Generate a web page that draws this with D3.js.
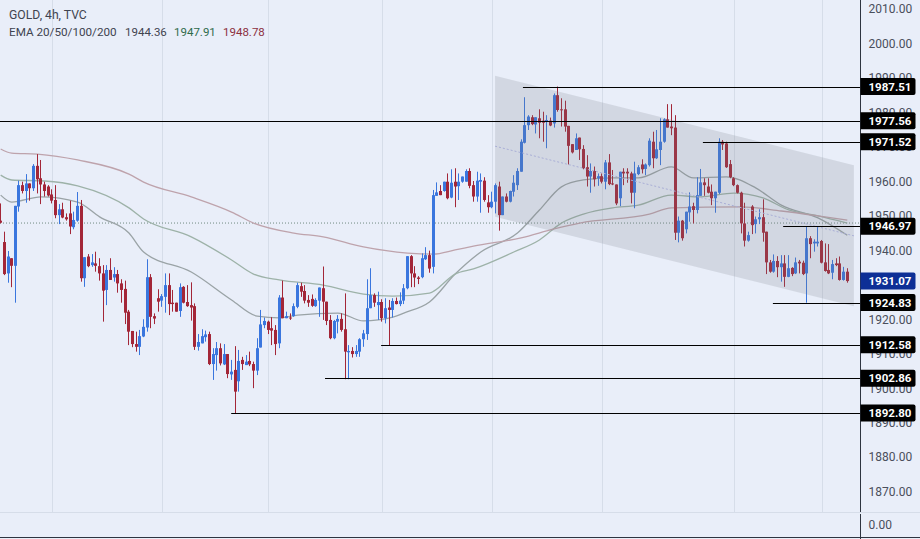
<!DOCTYPE html>
<html>
<head>
<meta charset="utf-8">
<script src="https://d3js.org/d3.v7.min.js"></script>
<style>
  html, body { margin: 0; padding: 0; background: #e9eef9; overflow: hidden; }
  svg { display: block; }
  text { font-family: Roboto, "Liberation Sans", sans-serif; }
</style>
</head>
<body>
<div id="chart"></div>
<script>
// GOLD 4h candles, prices
const opens = [
  1948.6,1942.4,1933.3,1937.7,1935.5,1952.7,1958.9,1957.2,1959.4,1958.0,
  1964.5,1960.9,1959.1,1958.5,1956.2,1954.6,1950.2,1951.9,1949.6,1950.7,
  1946.7,1948.6,1952.9,1931.9,1938.2,1935.7,1936.2,1935.4,1933.3,1928.5,
  1934.3,1932.1,1933.1,1930.4,1928.8,1922.2,1916.6,1912.8,1912.0,1915.0,
  1917.6,1932.2,1920.9,1926.1,1925.4,1926.5,1929.9,1924.8,1924.8,1922.4,
  1929.4,1925.0,1924.1,1923.8,1912.0,1913.0,1914.8,1915.7,1907.0,1909.6,
  1911.6,1906.9,1909.9,1904.0,1905.3,1902.0,1908.2,1906.7,1907.9,1907.0,
  1905.1,1911.8,1918.3,1919.3,1917.4,1916.9,1913.0,1926.3,1920.3,1920.5,
  1920.9,1923.6,1929.6,1928.2,1925.6,1925.9,1923.8,1925.4,1929.0,1925.1,
  1919.8,1914.5,1919.3,1920.1,1917.1,1910.4,1910.8,1909.9,1910.6,1914.2,
  1915.7,1923.2,1927.0,1924.1,1925.0,1920.3,1923.4,1922.7,1925.3,1924.4,
  1925.4,1929.0,1938.3,1933.3,1932.1,1932.2,1937.4,1938.6,1935.2,1955.8,
  1957.2,1957.2,1959.9,1955.3,1959.9,1958.6,1959.9,1959.9,1963.0,1958.9,
  1955.6,1959.9,1960.2,1953.9,1952.5,1954.1,1958.5,1950.2,1955.6,1954.1,
  1957.0,1958.9,1962.8,1971.2,1976.3,1978.6,1976.5,1978.3,1977.6,1977.2,
  1977.6,1976.8,1985.0,1980.9,1980.9,1976.1,1970.8,1969.1,1972.7,1969.4,
  1964.1,1961.4,1963.0,1960.9,1961.5,1959.9,1965.5,1959.4,1959.1,1955.1,
  1962.8,1962.8,1962.3,1956.7,1962.1,1964.9,1963.6,1964.7,1971.5,1966.7,
  1969.1,1971.5,1978.0,1975.9,1975.6,1945.1,1948.6,1946.1,1951.0,1952.8,
  1951.7,1955.8,1959.7,1958.5,1957.0,1955.1,1956.7,1971.5,1971.0,1965.0,
  1960.9,1958.9,1956.7,1947.8,1942.8,1952.7,1947.6,1949.0,1949.6,1945.4,
  1936.5,1933.8,1936.9,1935.1,1936.2,1932.3,1934.9,1933.3,1936.7,1936.4,
  1933.3,1943.5,1942.0,1942.0,1942.7,1936.5,1934.3,1933.5,1936.2,1936.2,
  1931.4,1933.8
];
const highs = [
  1953.6,1945.4,1939.8,1937.7,1952.9,1960.2,1959.9,1962.1,1959.4,1965.0,
  1967.9,1966.2,1959.9,1958.9,1957.7,1958.9,1953.4,1953.8,1950.7,1954.4,
  1951.2,1956.9,1954.6,1938.0,1938.9,1938.9,1939.6,1937.7,1935.7,1935.7,
  1937.7,1935.1,1934.3,1931.6,1931.2,1922.7,1916.6,1916.4,1916.9,1920.0,
  1937.4,1933.1,1921.7,1928.7,1927.3,1933.3,1933.3,1928.5,1924.8,1930.4,
  1929.6,1929.9,1930.7,1924.6,1915.7,1917.1,1916.7,1916.4,1911.6,1913.4,
  1913.0,1912.8,1909.9,1908.2,1912.2,1911.1,1909.1,1909.6,1910.6,1907.7,
  1914.5,1922.7,1920.5,1919.6,1920.6,1918.3,1927.0,1931.2,1922.2,1921.7,
  1924.6,1930.6,1930.6,1929.9,1927.0,1927.2,1926.1,1929.2,1935.3,1925.1,
  1921.2,1919.8,1921.2,1921.7,1927.5,1912.5,1911.9,1912.5,1914.5,1916.9,
  1931.6,1934.8,1927.5,1928.0,1925.8,1926.1,1925.6,1926.1,1926.3,1927.8,
  1930.2,1938.3,1938.6,1935.4,1932.5,1939.1,1940.9,1939.9,1957.5,1959.7,
  1958.9,1959.9,1962.3,1963.5,1963.8,1962.3,1961.4,1963.5,1963.8,1960.1,
  1962.8,1962.3,1961.2,1956.0,1957.0,1959.4,1959.9,1955.6,1956.5,1957.3,
  1961.8,1963.8,1972.2,1984.4,1979.2,1979.2,1978.6,1980.9,1980.2,1979.2,
  1978.5,1985.5,1987.5,1984.1,1983.4,1976.1,1970.8,1973.9,1972.7,1970.5,
  1967.6,1965.2,1964.3,1962.3,1962.3,1966.2,1967.9,1963.3,1959.1,1962.8,
  1963.8,1963.8,1962.8,1965.7,1964.7,1966.4,1965.2,1972.5,1974.4,1974.9,
  1978.3,1978.3,1982.4,1982.4,1979.2,1949.8,1948.8,1951.2,1956.8,1953.8,
  1961.2,1963.6,1960.9,1960.9,1959.1,1957.0,1972.5,1972.0,1971.5,1966.2,
  1961.2,1959.1,1957.0,1953.8,1945.4,1953.1,1949.8,1951.9,1954.8,1945.4,
  1937.2,1938.8,1938.3,1938.6,1938.6,1938.6,1935.1,1937.9,1937.2,1937.0,
  1947.0,1944.1,1943.2,1947.0,1943.0,1942.0,1941.8,1937.2,1937.7,1938.2,
  1935.2,1934.8
];
const lows = [
  1947.8,1932.8,1930.6,1929.3,1924.8,1951.2,1956.5,1953.8,1954.4,1957.2,
  1956.5,1953.4,1955.6,1955.6,1953.6,1949.3,1947.6,1949.3,1948.6,1944.7,
  1946.1,1948.3,1930.9,1929.4,1935.1,1935.2,1933.8,1931.2,1919.3,1924.1,
  1931.4,1930.9,1927.7,1924.8,1918.6,1912.5,1911.9,1910.6,1909.6,1914.8,
  1916.4,1917.4,1918.6,1922.2,1923.6,1921.9,1921.2,1922.2,1922.2,1920.7,
  1924.6,1923.6,1919.6,1911.1,1910.9,1913.0,1913.5,1906.7,1902.4,1905.1,
  1906.6,1906.7,1902.9,1902.4,1892.8,1899.0,1905.3,1906.7,1906.4,1900.0,
  1903.8,1911.8,1917.4,1915.7,1912.5,1909.6,1911.6,1920.3,1920.3,1919.8,
  1920.7,1923.2,1926.5,1924.6,1923.6,1923.6,1923.6,1920.7,1919.8,1918.3,
  1914.2,1914.2,1915.9,1916.4,1902.6,1902.6,1908.9,1909.1,1909.1,1912.0,
  1914.0,1923.2,1923.6,1919.8,1919.3,1918.8,1912.5,1920.5,1924.3,1923.8,
  1924.4,1928.7,1929.3,1929.3,1930.2,1931.9,1937.2,1933.5,1933.3,1955.8,
  1956.0,1957.0,1954.8,1955.1,1952.5,1954.6,1959.6,1959.9,1958.0,1954.1,
  1954.1,1950.9,1954.1,1950.9,1952.2,1950.7,1945.7,1950.2,1953.9,1953.9,
  1955.6,1957.5,1962.8,1971.0,1974.9,1976.3,1973.9,1972.5,1971.5,1969.6,
  1976.0,1975.6,1980.2,1975.9,1974.4,1964.9,1968.1,1969.1,1966.2,1963.5,
  1958.5,1956.7,1958.5,1958.7,1959.4,1957.7,1958.9,1958.9,1953.1,1952.8,
  1958.9,1959.6,1953.6,1952.2,1961.8,1962.3,1961.8,1964.3,1963.8,1966.5,
  1964.7,1971.2,1975.6,1973.4,1943.0,1942.3,1942.8,1944.9,1948.3,1947.8,
  1950.7,1955.8,1955.8,1956.5,1953.1,1950.9,1956.3,1969.1,1963.9,1960.9,
  1958.6,1956.5,1944.9,1941.1,1942.5,1944.7,1944.9,1947.6,1942.5,1933.1,
  1933.5,1933.5,1932.2,1930.9,1929.4,1932.2,1932.5,1933.1,1933.3,1932.8,
  1924.8,1937.7,1939.6,1941.1,1936.2,1933.8,1933.1,1931.6,1935.4,1931.2,
  1931.2,1930.6
];
const closes = [
  1948.0,1933.1,1938.2,1935.5,1952.9,1958.9,1957.2,1959.4,1958.0,1964.5,
  1960.6,1959.1,1957.2,1955.9,1954.4,1950.2,1951.9,1949.5,1949.0,1946.9,
  1948.8,1952.9,1931.9,1938.0,1935.4,1936.5,1935.5,1933.3,1928.3,1934.3,
  1931.4,1933.1,1930.4,1928.5,1921.9,1916.4,1912.8,1912.0,1915.1,1917.8,
  1932.2,1920.7,1920.2,1925.1,1926.7,1929.9,1924.4,1924.4,1922.2,1929.3,
  1924.8,1923.8,1923.4,1912.0,1913.4,1915.1,1915.6,1907.0,1909.9,1911.6,
  1907.2,1909.9,1904.1,1904.8,1899.0,1907.9,1907.0,1907.7,1906.9,1905.1,
  1911.6,1918.5,1919.5,1916.9,1916.7,1912.8,1926.3,1920.3,1920.9,1920.3,
  1923.8,1929.9,1928.0,1925.4,1924.8,1923.9,1925.6,1929.2,1925.1,1919.5,
  1914.5,1919.5,1920.1,1916.9,1910.6,1910.8,1909.9,1910.8,1914.2,1915.9,
  1923.2,1927.0,1924.8,1925.0,1920.3,1923.2,1922.7,1925.3,1924.4,1925.4,
  1929.0,1938.3,1933.3,1932.1,1931.7,1937.7,1938.6,1934.7,1956.0,1956.8,
  1956.0,1959.9,1955.1,1959.6,1958.5,1959.9,1961.4,1963.0,1958.7,1955.6,
  1960.2,1960.4,1954.6,1952.5,1954.1,1958.9,1950.2,1955.6,1954.1,1957.2,
  1959.6,1963.0,1971.5,1976.3,1978.8,1976.6,1978.6,1977.0,1977.0,1977.8,
  1976.2,1985.0,1980.7,1980.7,1975.9,1970.3,1968.4,1972.5,1969.3,1963.8,
  1961.4,1963.0,1960.6,1961.5,1959.9,1965.5,1959.2,1959.1,1953.6,1962.8,
  1962.3,1962.3,1956.7,1962.3,1964.1,1963.5,1964.9,1971.8,1966.7,1969.3,
  1971.5,1978.0,1975.6,1975.4,1945.1,1948.6,1943.5,1951.2,1952.7,1951.7,
  1956.0,1959.7,1958.9,1956.7,1955.1,1957.0,1971.5,1970.7,1964.1,1961.2,
  1958.9,1956.7,1947.8,1942.8,1944.4,1947.3,1949.0,1949.6,1945.1,1936.5,
  1933.8,1936.9,1935.1,1936.2,1932.3,1934.8,1933.1,1936.5,1936.2,1933.1,
  1943.5,1941.8,1942.5,1942.5,1936.4,1934.0,1933.3,1936.0,1935.7,1931.4,
  1933.8,1931.07
];

// EMA curves, read at the listed bar numbers
const ema20Bars = [0,3,11,21,27,35,39,52,63,70,76,81,92,99,107,110,117,124,131,141,147,153,159,167,174,183,189,198,206,213,223,231];
const ema20Values = [1956.0,1954.0,1955.5,1954.0,1949.7,1945.0,1939.5,1933.7,1925.6,1920.9,1920.4,1921.2,1921.8,1919.5,1920.6,1921.8,1925.0,1933.1,1939.5,1945.0,1951.7,1958.4,1960.4,1961.0,1961.0,1964.2,1961.0,1961.3,1958.1,1953.1,1949.4,1944.36];
const ema50Bars = [0,3,12,21,35,39,52,63,69,76,88,99,107,117,124,129,140,147,153,159,167,174,183,191,200,208,215,223,231];
const ema50Values = [1961.8,1960.4,1960.1,1958.7,1952.3,1949.1,1943.9,1937.2,1933.1,1931.4,1929.9,1927.3,1926.7,1927.6,1933.1,1934.6,1939.5,1943.0,1947.9,1950.5,1952.3,1953.1,1956.0,1955.5,1956.6,1955.2,1951.7,1950.0,1947.91];
const ema100Bars = [0,3,10,21,35,39,52,63,69,80,88,99,111,118,124,129,142,151,158,177,183,202,213,223,231];
const ema100Values = [1969.4,1968.2,1967.9,1966.2,1962.1,1959.8,1955.5,1951.1,1947.9,1945.0,1943.9,1941.0,1939.2,1938.9,1940.1,1941.2,1943.6,1946.2,1947.9,1950.5,1952.3,1952.6,1951.4,1950.0,1948.78];

// Drawn channel: bar number and price of its corners
const channelBars = [134.9, 232.8];
const channelTop = [1990.6, 1964.7];
const channelMid = [1970.2, 1944.2];
const channelBottom = [1949.7, 1923.8];

// Horizontal levels and the bar they start from
const levels = [1987.51, 1977.56, 1971.52, 1946.97, 1924.83, 1912.58, 1902.86, 1892.80];
const levelStarts = [142.5, -1, 191.6, 213.5, 210.7, 103.8, 88.5, 62.9];
const lastPrice = 1931.07;
const emaPriceLine = 1947.91;

const priceTicks = d3.range(2010, 1860, -10);
const gridBars = [14, 44, 73, 104, 134, 164, 200, 224];

const width = 920;
const height = 539;
const axisX = 860.5;
const paneBottom = 512;

const background = '#e9eef9';
const upColor = '#3a76de';
const downColor = '#a32638';

const x = d3.scaleLinear().domain([0, 231]).range([0.67, 847.3]);
const y = d3.scaleLinear().domain([2010, 1870]).range([9, 491.6]);

const svg = d3.select('#chart').append('svg')
    .attr('width', width)
    .attr('height', height);

svg.append('rect')
    .attr('width', width)
    .attr('height', height)
    .attr('fill', background);

// Vertical grid
svg.append('g')
    .selectAll('line')
    .data(gridBars)
    .enter()
    .append('line')
    .attr('x1', d => Math.round(x(d)) + 0.5)
    .attr('x2', d => Math.round(x(d)) + 0.5)
    .attr('y1', 0)
    .attr('y2', paneBottom)
    .attr('stroke', '#d6dde9')
    .attr('stroke-width', 1);

// EMA price line
svg.append('line')
    .attr('x1', 0)
    .attr('x2', axisX)
    .attr('y1', y(emaPriceLine))
    .attr('y2', y(emaPriceLine))
    .attr('stroke', '#6f8a80')
    .attr('stroke-width', 1)
    .attr('stroke-dasharray', '1,2');

// EMA curves
const emaLine = d3.line()
    .x(d => x(d[0]))
    .y(d => y(d[1]))
    .curve(d3.curveMonotoneX);

const emaSeries = [
    { bars: ema20Bars, values: ema20Values, color: '#9aa3a6' },
    { bars: ema50Bars, values: ema50Values, color: '#9db2a8' },
    { bars: ema100Bars, values: ema100Values, color: '#bea3ac' }
];

svg.append('g')
    .selectAll('path')
    .data(emaSeries)
    .enter()
    .append('path')
    .attr('d', d => emaLine(d3.zip(d.bars, d.values)))
    .attr('fill', 'none')
    .attr('stroke', d => d.color)
    .attr('stroke-width', 1.3);

// Candles, snapped to whole pixels so they stay crisp
const candles = svg.append('g')
    .selectAll('g')
    .data(d3.range(opens.length))
    .enter()
    .append('g');

candles.append('line')
    .attr('x1', i => Math.floor(x(i)) + 0.5)
    .attr('x2', i => Math.floor(x(i)) + 0.5)
    .attr('y1', i => y(highs[i]))
    .attr('y2', i => y(lows[i]))
    .attr('stroke', i => closes[i] >= opens[i] ? upColor : downColor)
    .attr('stroke-width', 1);

candles.append('rect')
    .attr('x', i => Math.floor(x(i)) - 1)
    .attr('width', 3)
    .attr('y', i => y(Math.max(opens[i], closes[i])))
    .attr('height', i => Math.max(1, y(Math.min(opens[i], closes[i])) - y(Math.max(opens[i], closes[i]))))
    .attr('fill', i => closes[i] >= opens[i] ? upColor : downColor);

// Channel drawing sits on top of the candles
const channelPoints = [
    [x(channelBars[0]), y(channelTop[0])],
    [x(channelBars[1]), y(channelTop[1])],
    [x(channelBars[1]), y(channelBottom[1])],
    [x(channelBars[0]), y(channelBottom[0])]
];

svg.append('polygon')
    .attr('points', channelPoints.map(p => p.join(',')).join(' '))
    .attr('fill', 'rgba(120,123,134,0.2)');

svg.append('line')
    .attr('x1', x(channelBars[0]))
    .attr('x2', x(channelBars[1]))
    .attr('y1', y(channelMid[0]))
    .attr('y2', y(channelMid[1]))
    .attr('stroke', '#a9aed6')
    .attr('stroke-width', 1)
    .attr('stroke-dasharray', '2,2');

// Level lines
svg.append('g')
    .selectAll('line')
    .data(levels)
    .enter()
    .append('line')
    .attr('x1', (d, i) => Math.max(0, x(levelStarts[i])))
    .attr('x2', axisX)
    .attr('y1', d => Math.round(y(d)) + 0.5)
    .attr('y2', d => Math.round(y(d)) + 0.5)
    .attr('stroke', '#000')
    .attr('stroke-width', 1);

// Price axis
const axisG = svg.append('g')
    .attr('transform', `translate(${axisX},0)`)
    .call(d3.axisRight(y)
        .tickValues(priceTicks)
        .tickFormat(d => d.toFixed(2))
        .tickSize(0)
        .tickPadding(8));

axisG.select('.domain').remove();
axisG.selectAll('text')
    .attr('font-size', '12px')
    .attr('font-family', 'Roboto, sans-serif')
    .attr('fill', '#4a4f5c');

// Panes separator, bottom pane axis value
svg.append('line')
    .attr('x1', 0)
    .attr('x2', width)
    .attr('y1', paneBottom + 0.5)
    .attr('y2', paneBottom + 0.5)
    .attr('stroke', '#d6dde9');

svg.append('line')
    .attr('x1', axisX)
    .attr('x2', axisX)
    .attr('y1', 0)
    .attr('y2', paneBottom)
    .attr('stroke', '#2e3440');

svg.append('line')
    .attr('x1', axisX)
    .attr('x2', axisX)
    .attr('y1', paneBottom + 2)
    .attr('y2', height)
    .attr('stroke', '#2e3440');

svg.append('line')
    .attr('x1', 0)
    .attr('x2', width)
    .attr('y1', 537.5)
    .attr('y2', 537.5)
    .attr('stroke', '#2e3440');

svg.append('text')
    .attr('x', axisX + 8)
    .attr('y', 525)
    .attr('dy', '0.35em')
    .attr('font-size', '12px')
    .attr('fill', '#4a4f5c')
    .text('0.00');

// Price badges
function drawBadge(price, fill) {
    const cy = y(price);
    const g = svg.append('g');
    g.append('path')
        .attr('d', `M${axisX},${cy - 8.5}H${axisX + 53}q2,0 2,2V${cy + 6.5}q0,2 -2,2H${axisX}Z`)
        .attr('fill', fill);
    g.append('text')
        .attr('x', axisX + 8)
        .attr('y', cy)
        .attr('dy', '0.36em')
        .attr('font-size', '11.5px')
        .attr('font-weight', 'bold')
        .attr('fill', '#fff')
        .text(price.toFixed(2));
}

levels.forEach(d => drawBadge(d, '#000'));
drawBadge(lastPrice, '#0d2f96');

// Legend
svg.append('text')
    .attr('x', 9).attr('y', 19)
    .attr('font-size', '12.2px').attr('fill', '#3f4450')
    .text('GOLD, 4h, TVC');

svg.append('text')
    .attr('x', 9).attr('y', 36)
    .attr('font-size', '11.7px').attr('fill', '#3f4450')
    .text('EMA 20/50/100/200');

const legendValues = [1944.36, 1947.91, 1948.78];
const legendX = [125, 174, 223];
const legendColors = ['#3f4450', '#2f6b4c', '#8c2f40'];

legendValues.forEach((d, i) => {
    svg.append('text')
        .attr('x', legendX[i]).attr('y', 36)
        .attr('font-size', '11.5px').attr('fill', legendColors[i])
        .text(d.toFixed(2));
});
</script>
</body>
</html>
